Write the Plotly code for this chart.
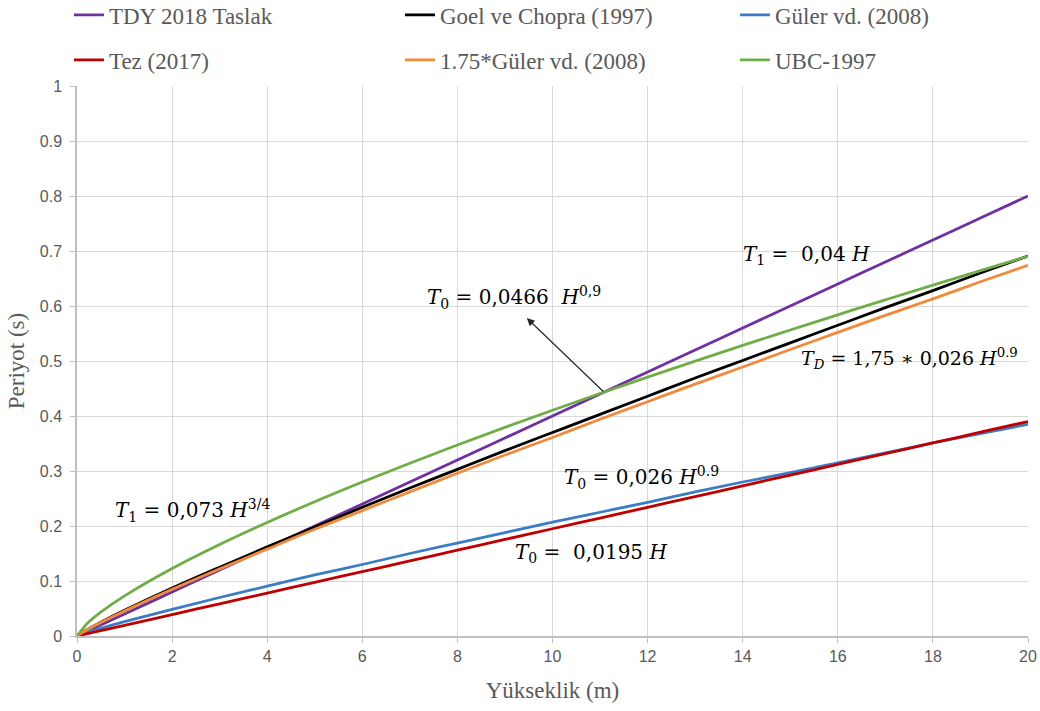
import plotly.graph_objects as go

H = [0, 0.25, 0.5, 1, 2, 3, 4, 5, 6, 7, 8, 9, 10, 11, 12, 13, 14, 15, 16, 17, 18, 19, 20]

tdy_2018 = [0, 0.010, 0.020, 0.040, 0.080, 0.120, 0.160, 0.200, 0.240, 0.280, 0.320, 0.360,
            0.400, 0.440, 0.480, 0.520, 0.560, 0.600, 0.640, 0.680, 0.720, 0.760, 0.800]
goel_chopra = [0, 0.0134, 0.025, 0.0466, 0.087, 0.125, 0.162, 0.198, 0.234, 0.269, 0.303, 0.337,
               0.370, 0.403, 0.436, 0.469, 0.501, 0.533, 0.565, 0.597, 0.628, 0.660, 0.691]
guler = [0, 0.0075, 0.0139, 0.026, 0.0485, 0.070, 0.0905, 0.111, 0.130, 0.150, 0.169, 0.188,
         0.207, 0.225, 0.243, 0.262, 0.280, 0.297, 0.315, 0.333, 0.351, 0.368, 0.385]
tez_2017 = [0, 0.0049, 0.0098, 0.0195, 0.039, 0.0585, 0.078, 0.0975, 0.117, 0.1365, 0.156, 0.1755,
            0.195, 0.2145, 0.234, 0.2535, 0.273, 0.2925, 0.312, 0.3315, 0.351, 0.3705, 0.390]
guler_175 = [0, 0.0131, 0.0244, 0.0455, 0.0849, 0.122, 0.158, 0.194, 0.228, 0.262, 0.296, 0.329,
             0.361, 0.394, 0.426, 0.458, 0.489, 0.521, 0.552, 0.583, 0.613, 0.644, 0.674]
ubc_1997 = [0, 0.0258, 0.0434, 0.073, 0.1228, 0.1664, 0.2065, 0.2441, 0.2799, 0.3142, 0.3473, 0.3793,
            0.4105, 0.4409, 0.4706, 0.4998, 0.5284, 0.5564, 0.584, 0.6112, 0.6379, 0.6643, 0.6904]

series = [
    ("TDY 2018 Taslak", tdy_2018, "#7030a0"),
    ("Goel ve Chopra (1997)", goel_chopra, "#000000"),
    ("Güler vd. (2008)", guler, "#3b7dc4"),
    ("Tez (2017)", tez_2017, "#c00000"),
    ("1.75*Güler vd. (2008)", guler_175, "#f08a3c"),
    ("UBC-1997", ubc_1997, "#70ad47"),
]

x_ticks = [0, 2, 4, 6, 8, 10, 12, 14, 16, 18, 20]
y_ticks = [0, 0.1, 0.2, 0.3, 0.4, 0.5, 0.6, 0.7, 0.8, 0.9, 1]
y_tick_text = ["0", "0.1", "0.2", "0.3", "0.4", "0.5", "0.6", "0.7", "0.8", "0.9", "1"]

serif = "Liberation Serif"
gray = "#595959"

# one legend per entry, laid out as a 3 x 2 grid (container coordinates)
legend_pos = [(0.0663, 0.979), (0.3846, 0.979), (0.7067, 0.979),
              (0.0663, 0.9156), (0.3846, 0.9156), (0.7067, 0.9156)]
legend_ids = ["legend", "legend2", "legend3", "legend4", "legend5", "legend6"]

fig = go.Figure()
for (name, ys, color), lg in zip(series, legend_ids):
    fig.add_trace(go.Scatter(x=H, y=ys, mode="lines", name=name,
                             line=dict(color=color, width=2.8, shape="spline"),
                             legend=lg))

legend_layout = {}
for lg, (lx, ly) in zip(legend_ids, legend_pos):
    legend_layout[lg] = dict(x=lx, y=ly, xref="container", yref="container",
                             xanchor="left", yanchor="middle",
                             orientation="h", bgcolor="rgba(0,0,0,0)",
                             font=dict(family=serif, size=23, color=gray),
                             itemwidth=30)

annotations = [
    dict(x=2.42, y=0.229, size=20, text="<i>T</i><sub>1</sub> = 0,073 <i>H</i><sup>3/4</sup>"),
    dict(x=9.19, y=0.616, size=20, text="<i>T</i><sub>0</sub> = 0,0466  <i>H</i><sup>0,9</sup>"),
    dict(x=15.35, y=0.693, size=20, text="<i>T</i><sub>1</sub> =  0,04 <i>H</i>"),
    dict(x=17.5, y=0.505, size=19, text="<i>T<sub>D</sub></i> = 1,75 ∗ 0,026 <i>H</i><sup>0.9</sup>"),
    dict(x=11.88, y=0.289, size=20, text="<i>T</i><sub>0</sub> = 0,026 <i>H</i><sup>0.9</sup>"),
    dict(x=10.81, y=0.151, size=20, text="<i>T</i><sub>0</sub> =  0,0195 <i>H</i>"),
]
ann_list = []
for a in annotations:
    ann_list.append(dict(x=a["x"], y=a["y"], xref="x", yref="y", text=a["text"],
                         showarrow=False,
                         font=dict(family="DejaVu Serif", size=a["size"], color="#000000")))
ann_list.append(dict(x=9.46, y=0.578, xref="x", yref="y", ax=11.1, ay=0.442,
                     axref="x", ayref="y", text="", showarrow=True, arrowhead=2,
                     arrowsize=1.3, arrowwidth=1.2, arrowcolor="#262626"))

fig.update_layout(
    width=1040, height=711,
    margin=dict(l=77, r=12, t=86, b=75, autoexpand=False),
    paper_bgcolor="white", plot_bgcolor="white",
    font=dict(family=serif, color=gray),
    showlegend=True,
    annotations=ann_list,
    xaxis=dict(range=[0, 20], tickvals=x_ticks, showgrid=True, gridcolor="#d9d9d9",
               gridwidth=1, zeroline=False, showline=True, linecolor="#bfbfbf", linewidth=1.5,
               ticks="outside", ticklen=5, tickcolor="#bfbfbf", automargin=False,
               tickfont=dict(family="Liberation Sans", size=16, color=gray),
               title=dict(text="Yükseklik (m)", font=dict(family=serif, size=23, color=gray),
                          standoff=18)),
    yaxis=dict(range=[0, 1], tickvals=y_ticks, ticktext=y_tick_text, showgrid=True,
               gridcolor="#d9d9d9", gridwidth=1, zeroline=False, showline=True,
               linecolor="#bfbfbf", linewidth=1.5, ticks="outside", ticklen=5,
               tickcolor="#bfbfbf", automargin=False, ticklabelstandoff=5,
               tickfont=dict(family="Liberation Sans", size=16, color=gray),
               title=dict(text="Periyot (s)", font=dict(family=serif, size=23, color=gray),
                          standoff=9)),
    **legend_layout,
)

fig.write_html("out.html", config={"displayModeBar": False},
               post_script="document.body.style.margin='0';document.body.style.overflow='hidden';")
